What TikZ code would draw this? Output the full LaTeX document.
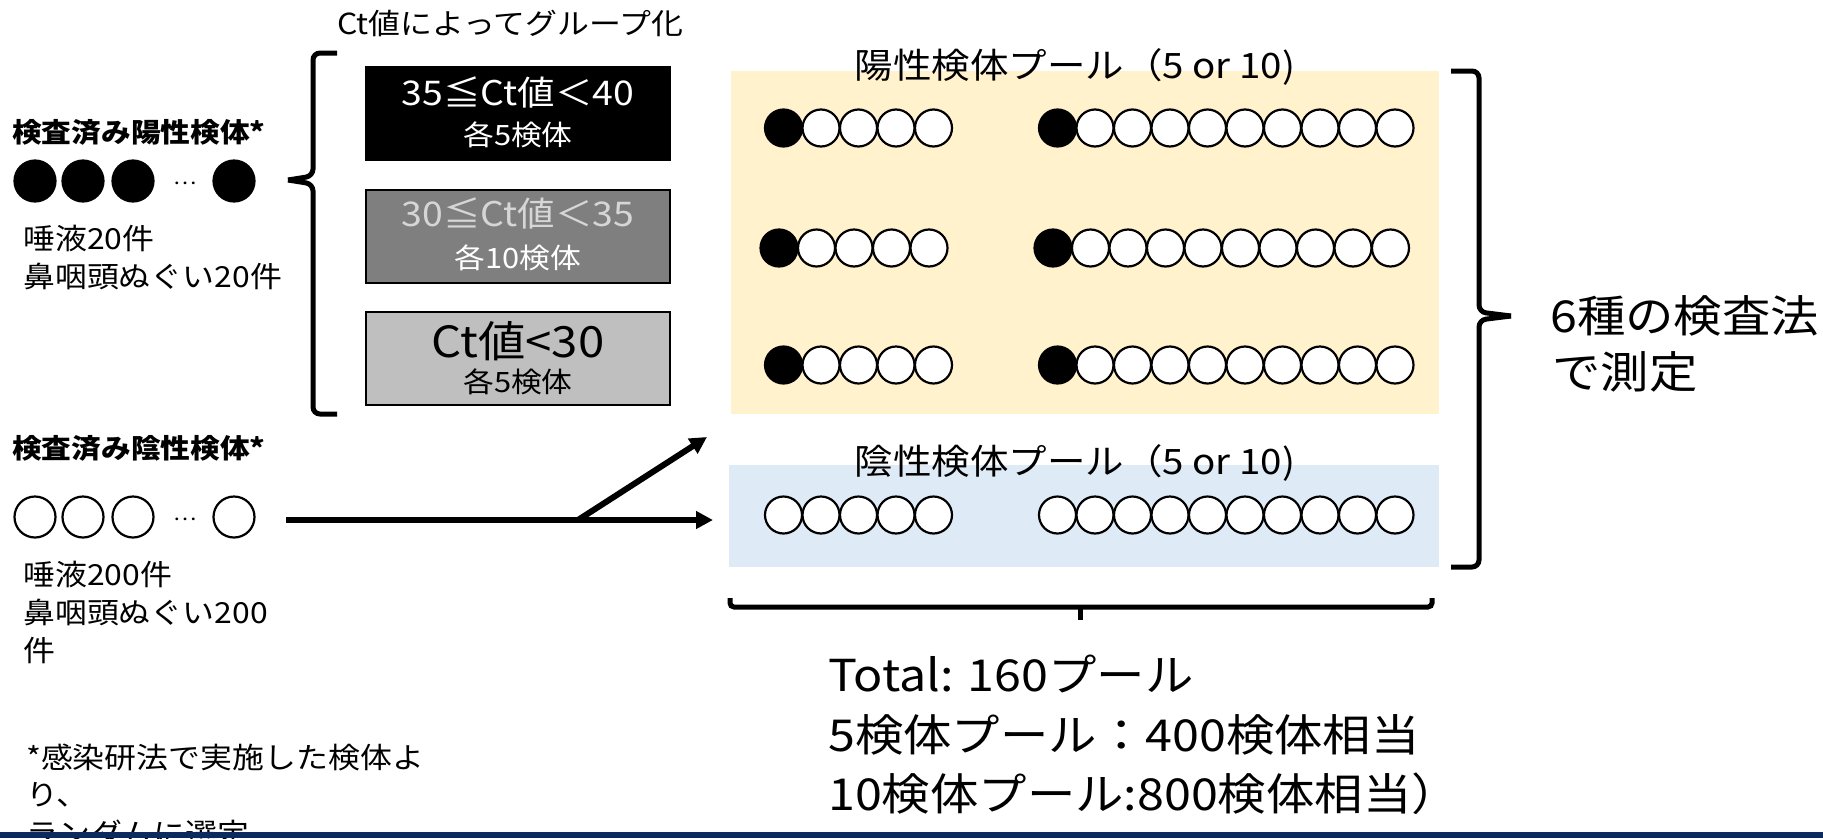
\documentclass[tikz,border=0pt]{standalone}
\usepackage{fontspec}
\setmainfont{Noto Sans CJK JP}[FakeStretch=1.1]
\usetikzlibrary{arrows.meta}
\definecolor{poolY}{HTML}{FFF2CC}
\definecolor{poolB}{HTML}{DEEBF7}
\definecolor{boxG}{HTML}{7F7F7F}
\definecolor{boxL}{HTML}{BFBFBF}
\definecolor{txtG}{HTML}{D6D6D6}
\definecolor{navy}{HTML}{0D2A5E}
\tikzset{
  wc/.style={circle, draw=black, line width=2.2pt, fill=white, minimum size=37pt, inner sep=0pt},
  bc/.style={wc, fill=black},
  lwc/.style={circle, draw=black, line width=2.2pt, fill=white, minimum size=41pt, inner sep=0pt},
  lbc/.style={lwc, fill=black},
  grpbox/.style={rectangle, draw=black, line width=2pt, minimum width=304pt, minimum height=93pt, inner sep=0pt},
  txt/.style={inner sep=0pt, font=\fontsize{29}{35}\selectfont},
  btxt/.style={inner sep=0pt, font=\fontsize{27}{33}\selectfont\bfseries},
  boxone/.style={inner sep=0pt, font=\fontsize{34}{40}\selectfont},
  boxtwo/.style={inner sep=0pt, font=\fontsize{28}{34}\selectfont},
  pooltitle/.style={inner sep=0pt, font=\fontsize{35}{42}\selectfont},
  bigtxt/.style={inner sep=0pt, font=\fontsize{44}{52}\selectfont},
  bracepath/.style={line width=5pt, rounded corners=7pt},
  flow/.style={line width=6pt, -{Triangle[length=17pt,width=17pt]}}
}
\begin{document}
\begin{tikzpicture}[x=1pt,y=-1pt]
\useasboundingbox (0,0) rectangle (1823,838);
\fill[white] (0,0) rectangle (1823,838);

% pool backgrounds
\fill[poolY] (731,71) rectangle (1439,414);
\fill[poolB] (729,465) rectangle (1439,567);

% title top
\node[txt, anchor=west] (grouptitle) at (337,23) {Ct値によってグループ化};

% left brace
\draw[bracepath] (337,53) -- (313,53) -- (313,176) -- (288,180);
\draw[bracepath] (288,180) -- (313,184) -- (313,414) -- (337,414);

% group boxes
\node[grpbox, fill=black] (box1) at (518,113.5) {};
\node[grpbox, fill=boxG] (box2) at (518,236.5) {};
\node[grpbox, fill=boxL] (box3) at (518,358.5) {};
\node[boxone, text=white] (b1a) at (518,92) {35≦Ct値＜40};
\node[boxtwo, text=white] (b1b) at (518,135) {各5検体};
\node[boxone, text=txtG] (b2a) at (518,213) {30≦Ct値＜35};
\node[boxtwo, text=white] (b2b) at (518,258) {各10検体};
\node[inner sep=0pt, font=\fontsize{43}{50}\selectfont] (b3a) at (518,341) {Ct値<30};
\node[boxtwo] (b3b) at (518,382) {各5検体};

% positive samples
\node[btxt, anchor=west] (posL) at (12,132) {検査済み陽性検体*};
\node[lbc] (pc1) at (35,181) {};
\node[lbc] (pc2) at (83,181) {};
\node[lbc] (pc3) at (133,181) {};
\node[inner sep=0pt, font=\fontsize{20}{24}\selectfont] (pdots) at (185,183) {…};
\node[lbc] (pc4) at (234,181) {};
\node[txt, anchor=west] (posA) at (23,238) {唾液20件};
\node[txt, anchor=west] (posB) at (23,276) {鼻咽頭ぬぐい20件};

% negative samples
\node[btxt, anchor=west] (negL) at (12,448) {検査済み陰性検体*};
\node[lwc] (nc1) at (35,517) {};
\node[lwc] (nc2) at (83,517) {};
\node[lwc] (nc3) at (133,517) {};
\node[inner sep=0pt, font=\fontsize{20}{24}\selectfont] (ndots) at (185,519) {…};
\node[lwc] (nc4) at (234,517) {};
\node[txt, anchor=west] (negA) at (23,574) {唾液200件};
\node[txt, anchor=west] (negB) at (23,612) {鼻咽頭ぬぐい200};
\node[txt, anchor=west] (negC) at (23,651) {件};

% footnote
\node[txt, anchor=west] (fn1) at (26,757) {*感染研法で実施した検体よ};
\node[txt, anchor=west] (fn2) at (26,795) {り、};
\node[txt, anchor=west] (fn3) at (26,833) {ランダムに選定};

% arrows
\coordinate (arrS) at (286,520);
\coordinate (arrJ) at (578,520);
\coordinate (arrE) at (713,520);
\coordinate (arrD) at (707,437);
\draw[flow] (arrS) -- (arrE);
\draw[flow] (arrJ) -- (arrD);

% pool titles
\node[pooltitle] (postitle) at (1075,67) {陽性検体プール（5 or 10)};
\node[pooltitle] (negtitle) at (1075,463) {陰性検体プール（5 or 10)};

% positive pools
\foreach \r/\y/\sx in {1/128/0, 2/248/-4.5, 3/365/0} {
  \foreach \i in {0,...,4} {
    \ifnum\i=0
      \node[bc] (pa\r-\i) at ({783.5+\sx+37.5*\i},\y) {};
    \else
      \node[wc] (pa\r-\i) at ({783.5+\sx+37.5*\i},\y) {};
    \fi
  }
  \foreach \i in {0,...,9} {
    \ifnum\i=0
      \node[bc] (pb\r-\i) at ({1057.5+\sx+37.5*\i},\y) {};
    \else
      \node[wc] (pb\r-\i) at ({1057.5+\sx+37.5*\i},\y) {};
    \fi
  }
}
% negative pools
\foreach \i in {0,...,4} { \node[wc] (na-\i) at ({783.5+37.5*\i},515) {}; }
\foreach \i in {0,...,9} { \node[wc] (nb-\i) at ({1057.5+37.5*\i},515) {}; }

% right brace
\draw[bracepath] (1451,71) -- (1479,71) -- (1479,312) -- (1511,316);
\draw[bracepath] (1511,316) -- (1479,320) -- (1479,567) -- (1451,567);
\node[bigtxt, anchor=west] (methA) at (1550,316) {6種の検査法};
\node[bigtxt, anchor=west] (methB) at (1552,372) {で測定};

% bottom brace
\draw[line width=5pt, rounded corners=4pt] (730,598) -- (730,607) -- (1432,607) -- (1432,598);
\draw[line width=5pt] (1080,606) -- (1080,620);
\node[bigtxt, anchor=west] (tot1) at (828,674) {Total: 160プール};
\node[bigtxt, anchor=west] (tot2) at (828,735) {5検体プール：400検体相当};
\node[bigtxt, anchor=west] (tot3) at (828,794) {10検体プール:800検体相当）};

% bottom bar
\fill[navy] (0,832) rectangle (1823,838);
\end{tikzpicture}
\end{document}
